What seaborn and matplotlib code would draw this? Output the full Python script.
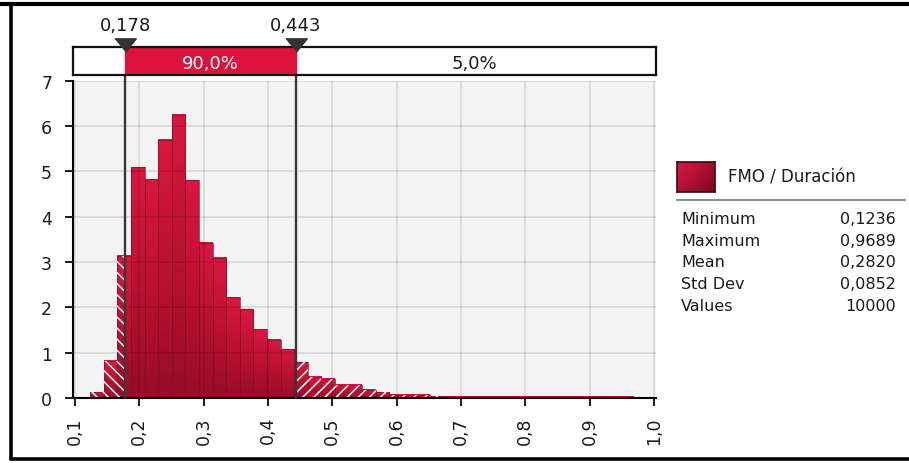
import numpy as np
import pandas as pd
import matplotlib
matplotlib.use("Agg")
import matplotlib.pyplot as plt
from matplotlib.lines import Line2D
from matplotlib.patches import Rectangle
from matplotlib.colors import LinearSegmentedColormap
import seaborn as sns

# values
series_name = "FMO / Duración"
stat_names = ["Minimum", "Maximum", "Mean", "Std Dev", "Values"]
stat_values = ["0,1236", "0,9689", "0,2820", "0,0852", "10000"]
x_min, x_max = 0.1236, 0.9689
n_bins = 40
density = [0.13, 0.82, 3.14, 5.09, 4.83, 5.70, 6.25, 4.80, 3.42, 3.09,
           2.22, 1.96, 1.52, 1.28, 1.07, 0.79, 0.47, 0.42, 0.29, 0.29,
           0.18, 0.13, 0.07, 0.07, 0.07, 0.04, 0.03, 0.03, 0.03, 0.03,
           0.03, 0.03, 0.03, 0.03, 0.03, 0.03, 0.03, 0.03, 0.03, 0.03]
lo_cut, hi_cut = 0.178, 0.443
cut_labels = ["0,178", "0,443"]
mid_label, right_label = "90,0%", "5,0%"
x_ticks = [0.1, 0.2, 0.3, 0.4, 0.5, 0.6, 0.7, 0.8, 0.9, 1.0]
x_ticklabels = ["0,1", "0,2", "0,3", "0,4", "0,5", "0,6", "0,7", "0,8", "0,9", "1,0"]
y_ticks = [0, 1, 2, 3, 4, 5, 6, 7]

edges = list(np.linspace(x_min, x_max, n_bins + 1))
df = pd.DataFrame({"x": [(a + b) / 2 for a, b in zip(edges[:-1], edges[1:])], "w": density})

sns.set_theme(style="white")
plt.rcParams["font.family"] = ["DejaVu Sans"]
plt.rcParams["hatch.linewidth"] = 1.1
txt = "#1a1a1a"

W, H = 909, 464
def fx(px):
    return px / W
def fy(py):
    return 1 - py / H

fig = plt.figure(figsize=(9.09, 4.64), dpi=100)
fig.patch.set_facecolor("white")

ax = fig.add_axes([fx(73), fy(399), fx(656) - fx(73), (399 - 81.7) / H])
ax.set_facecolor("#f4f4f4")
xlim = (0.1 - 2 / 643.5, 1.0 + 2 / 643.5)

# base bars
sns.histplot(data=df, x="x", weights="w", bins=edges, ax=ax, color="#c0123a",
             alpha=1, edgecolor="#8a0a26", linewidth=0.5, zorder=1)
bars = list(ax.patches)

# vertical shading inside each bar
shade = LinearSegmentedColormap.from_list("shade", ["#900b27", "#b8112f", "#d8173f"])
grad = np.linspace(0, 1, 64).reshape(-1, 1)
for b in bars:
    if b.get_height() <= 0:
        continue
    ax.imshow(grad, extent=[b.get_x(), b.get_x() + b.get_width(), 0, b.get_height()],
              origin="lower", aspect="auto", cmap=shade, zorder=1.1,
              vmin=-0.1, vmax=1.0)
for b in bars:
    b.set_facecolor("none")
    b.set_zorder(1.2)

# hatched tails outside the 90% range
n0 = len(ax.patches)
sns.histplot(data=df, x="x", weights="w", bins=edges, ax=ax, facecolor="none",
             edgecolor="white", linewidth=0, hatch="\\\\\\", zorder=1.3)
left_clip = Rectangle((xlim[0], 0), lo_cut - xlim[0], 8, transform=ax.transData)
for p in ax.patches[n0:]:
    p.set_clip_path(left_clip)
n1 = len(ax.patches)
sns.histplot(data=df, x="x", weights="w", bins=edges, ax=ax, facecolor="none",
             edgecolor="white", linewidth=0, hatch="///", zorder=1.3)
right_clip = Rectangle((hi_cut, 0), xlim[1] - hi_cut, 8, transform=ax.transData)
for p in ax.patches[n1:]:
    p.set_clip_path(right_clip)

ax.set_xlim(*xlim)
ax.set_ylim(0, 7)
ax.set_xlabel("")
ax.set_ylabel("")
ax.set_xticks(x_ticks, x_ticklabels, rotation=90)
ax.set_yticks(y_ticks, [str(v) for v in y_ticks])
ax.grid(True, color="black", alpha=0.11, lw=1.3)
ax.set_axisbelow(False)
ax.tick_params(axis="both", direction="out", length=6, width=1.4, colors=txt,
               labelsize=12.5, bottom=True, left=True)
ax.tick_params(axis="x", pad=7)
ax.tick_params(axis="y", pad=9)
for s in ["top", "right"]:
    ax.spines[s].set_visible(False)
for s in ["left", "bottom"]:
    ax.spines[s].set_color("black")
    ax.spines[s].set_linewidth(1.5)

# cut lines running up into the band
band_top = 1 + (81.7 - 48.3) / (399 - 81.7)
for c in [lo_cut, hi_cut]:
    ax.axvline(c, ymin=0, ymax=band_top, color="#383838", lw=1.7, zorder=4, clip_on=False)

# percentage band above the plot
axb = fig.add_axes([fx(73), fy(76), fx(656) - fx(73), (76 - 48.3) / H])
axb.set_xlim(*xlim)
axb.set_ylim(0, 1)
axb.axvspan(lo_cut, hi_cut, color="#dc143c", zorder=1)
axb.set_xticks([])
axb.set_yticks([])
for s in axb.spines.values():
    s.set_color("#111111")
    s.set_linewidth(1.6)
axb.text((lo_cut + hi_cut) / 2, 0.45, mid_label, color="white", ha="center",
         va="center", fontsize=13)
axb.text((hi_cut + 1.0) / 2, 0.45, right_label, color=txt, ha="center",
         va="center", fontsize=13)
tri = [(-0.5, 0.31), (0.5, 0.31), (0, -0.31)]
axb.plot([lo_cut, hi_cut], [1.065, 1.065], ls="none", marker=tri, ms=15.5,
         color="#333333", clip_on=False, zorder=5)
for c, lab in zip([lo_cut, hi_cut], cut_labels):
    axb.text(c, 1.79, lab, ha="center", va="center", fontsize=13, color=txt,
             clip_on=False)

# legend swatch and statistics
axs = fig.add_axes([fx(677), fy(192.7), 38 / W, 29.4 / H])
gx, gy = np.meshgrid(np.linspace(0, 1, 40), np.linspace(0, 1, 30))
axs.imshow(gx * 0.6 + gy * 0.4, cmap=LinearSegmentedColormap.from_list(
    "sw", ["#dc1844", "#7c0920"]), aspect="auto")
axs.set_xticks([])
axs.set_yticks([])
for s in axs.spines.values():
    s.set_color("#3a0610")
    s.set_linewidth(1.2)
fig.text(fx(728), fy(178), series_name, ha="left", va="center", fontsize=12, color=txt)
fig.add_artist(Line2D([fx(677), fx(905)], [fy(200.7)] * 2, color="#8c8c8c", lw=1.5))
for i, (n, v) in enumerate(zip(stat_names, stat_values)):
    yy = fy(219.3 + i * 21.8)
    fig.text(fx(681), yy, n, ha="left", va="center", fontsize=11.5, color=txt)
    fig.text(fx(896), yy, v, ha="right", va="center", fontsize=11.5, color=txt)

# frame around the screenshot
fig.add_artist(Line2D([0, 1], [fy(5), fy(5)], color="black", lw=3))
fig.add_artist(Line2D([fx(10.5), fx(10.5)], [fy(5), fy(460)], color="black", lw=2.6))
fig.add_artist(Line2D([fx(10.5), 1], [fy(460), fy(460)], color="black", lw=2.6))

fig.savefig("out.png", dpi=100)
